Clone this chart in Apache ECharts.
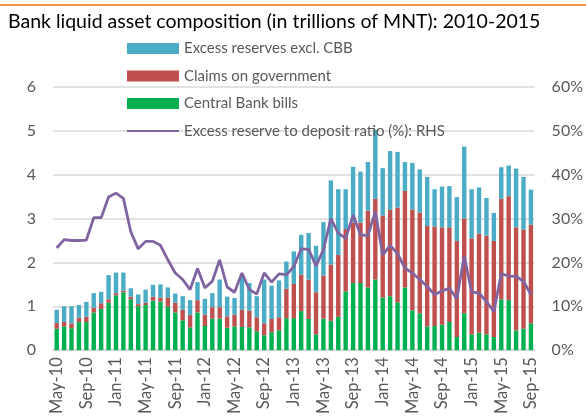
<!DOCTYPE html>
<html>
<head>
<meta charset="utf-8">
<script src="https://cdn.jsdelivr.net/npm/echarts@6/dist/echarts.min.js"></script>
<style>
html,body{margin:0;padding:0;background:#fff;}
#c{width:586px;height:417px;}
</style>
</head>
<body>
<div id="c"></div>
<script>
// Monthly categories May-10 .. Sep-15
const months = ['Jan','Feb','Mar','Apr','May','Jun','Jul','Aug','Sep','Oct','Nov','Dec'];
const categories = [];
for (let y = 2010, m = 4; !(y === 2015 && m === 9); ) {
  categories.push(months[m] + '-' + String(y).slice(2));
  m++; if (m === 12) { m = 0; y++; }
}
// Cumulative tops (trillions MNT)
const centralBankBills = [0.49,0.54,0.50,0.64,0.64,0.86,0.94,1.08,1.25,1.32,1.16,1.00,1.03,1.13,1.11,0.99,0.86,0.68,0.52,0.86,0.55,0.72,0.72,0.51,0.54,0.53,0.52,0.43,0.34,0.41,0.45,0.73,0.73,0.89,0.71,0.36,0.72,0.67,0.76,1.34,1.53,1.53,1.43,1.61,1.20,1.23,1.09,1.43,0.91,0.84,0.54,0.55,0.58,0.64,0.30,0.84,0.36,0.40,0.36,0.30,1.16,1.14,0.45,0.49,0.61];
const claimsTop = [0.62,0.645,0.61,0.74,0.76,0.97,1.07,1.16,1.30,1.36,1.22,1.05,1.08,1.22,1.20,1.20,1.08,0.92,0.80,1.14,0.81,0.98,0.98,0.77,0.81,0.92,0.90,0.75,0.61,0.71,0.75,1.40,1.51,1.72,1.61,1.32,1.70,1.95,2.17,2.76,2.91,2.91,3.18,3.45,3.07,3.20,3.25,3.63,3.21,3.14,2.83,2.82,2.80,2.80,2.49,3.00,2.55,2.66,2.61,2.49,3.45,3.51,2.80,2.75,2.86];
const totalTop = [0.92,1.00,1.00,1.03,1.10,1.30,1.33,1.71,1.77,1.77,1.41,1.27,1.38,1.49,1.50,1.43,1.29,1.23,1.14,1.55,1.17,1.30,1.61,1.22,1.19,1.72,1.53,1.23,1.61,1.47,1.59,2.02,2.25,2.63,2.67,2.38,2.92,3.87,3.67,3.67,4.18,4.07,4.29,5.03,4.15,4.54,4.52,4.29,4.27,4.12,3.95,3.67,3.73,3.74,3.49,4.64,3.67,3.71,3.47,3.13,4.17,4.21,4.14,3.95,3.66];
const ratioPct = [23.3,25.2,25.0,25.0,25.1,30.2,30.2,34.9,35.8,34.6,27.0,23.1,24.8,24.8,23.9,20.6,17.6,16.1,13.8,18.6,14.2,15.7,20.6,14.4,13.2,17.6,13.8,12.8,17.6,15.5,17.4,17.2,19.0,23.1,23.0,19.2,22.9,30.0,26.7,25.5,30.8,26.3,26.1,31.6,21.7,23.9,22.0,18.7,17.6,16.1,14.5,12.7,13.5,14.1,11.7,21.4,13.3,13.0,11.1,8.8,17.4,16.9,16.8,15.7,12.7];
const leftTicks = [0,1,2,3,4,5,6];

const claims = claimsTop.map((v,i)=>+(v - centralBankBills[i]).toFixed(3));
const excess = totalTop.map((v,i)=>+(v - claimsTop[i]).toFixed(3));

const FONT = 'Lato, "Open Sans", sans-serif';
const GREY = '#595959';
const chart = echarts.init(document.getElementById('c'), null, {renderer:'canvas'});
chart.setOption({
  animation:false,
  backgroundColor:'#fff',
  title:{
    text:'Bank liquid asset composition (in trillions of MNT): 2010-2015',
    left:3, top:7,
    textStyle:{fontFamily:FONT, fontSize:19.5, fontWeight:'normal', color:'#000'}
  },
  graphic:[
    {type:'rect', shape:{x:0,y:4,width:586,height:2}, style:{fill:'#f79646'}}
  ],
  legend:{
    orient:'vertical', left:126, top:41, itemGap:12.5, padding:0,
    itemWidth:52, itemHeight:11,
    textStyle:{fontFamily:FONT, fontSize:15, color:GREY},
    data:[
      {name:'Excess reserves excl. CBB', icon:'rect'},
      {name:'Claims on government', icon:'rect'},
      {name:'Central Bank bills', icon:'rect'},
      {name:'Excess reserve to deposit ratio (%): RHS', itemStyle:{opacity:0}}
    ]
  },
  grid:{left:53, right:51, top:87, bottom:66, containLabel:false},
  xAxis:{
    type:'category', data:categories, boundaryGap:true,
    axisLine:{lineStyle:{color:'#d9d9d9', width:2}},
    axisTick:{show:false},
    axisLabel:{interval:3, rotate:90, fontFamily:FONT, fontSize:16.5, color:GREY, margin:7}
  },
  yAxis:[
    {type:'value', min:0, max:6, interval:1,
     axisLine:{show:false}, axisTick:{show:false},
     splitLine:{lineStyle:{color:'#d9d9d9', width:1.5}},
     axisLabel:{fontFamily:FONT, fontSize:16, color:GREY, margin:17,
       formatter:v=>leftTicks.includes(v)?String(v):''}},
    {type:'value', min:0, max:0.6, interval:0.1,
     axisLine:{show:false}, axisTick:{show:false}, splitLine:{show:false},
     axisLabel:{fontFamily:FONT, fontSize:16, color:GREY, margin:17,
       formatter:v=>Math.round(v*100)+'%'}}
  ],
  series:[
    {name:'Central Bank bills', type:'bar', stack:'a', data:centralBankBills, barWidth:4.4,
     itemStyle:{color:'#00b050'}},
    {name:'Claims on government', type:'bar', stack:'a', data:claims, barWidth:4.4,
     itemStyle:{color:'#c0504d'}},
    {name:'Excess reserves excl. CBB', type:'bar', stack:'a', data:excess, barWidth:4.4,
     itemStyle:{color:'#4bacc6'}},
    {name:'Excess reserve to deposit ratio (%): RHS', type:'line', yAxisIndex:1,
     data:ratioPct.map(v=>v/100), symbol:'none', smooth:false,
     lineStyle:{color:'#8064a2', width:2.8}, itemStyle:{color:'#8064a2'}}
  ]
});
</script>
</body>
</html>
